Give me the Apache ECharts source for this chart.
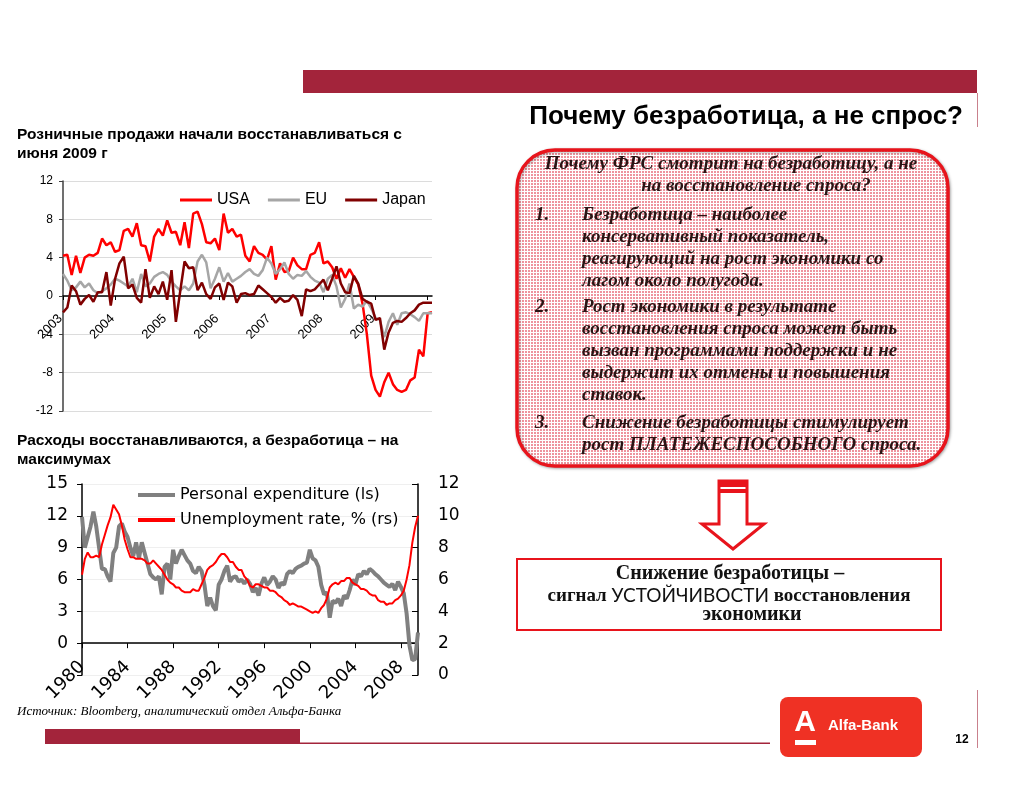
<!DOCTYPE html>
<html><head><meta charset="utf-8">
<script src="https://cdn.jsdelivr.net/npm/echarts@6/dist/echarts.min.js"></script>
<style>html,body{margin:0;padding:0;background:#fff}#c{width:1024px;height:791px}</style>
</head><body><div id="c"></div>
<script>
// ---- Top chart: retail sales, % y/y (monthly, Jan 2003 - Feb 2010)
const retailMonths = (function(){const a=[];for(let y=2003;y<=2010;y++){for(let m=1;m<=12;m++){if(y===2010&&m>2)break;a.push(y+'-'+(m<10?'0'+m:m));}}return a;})();
const usaSales = [4.2,4.3,2.2,4.2,2.4,4.0,4.3,4.2,4.5,6.0,
5.3,5.6,4.6,4.8,6.8,7.0,6.2,7.6,5.3,5.2,
3.6,6.2,7.0,6.3,7.9,6.6,6.7,5.3,7.7,5.0,
8.6,8.8,7.5,5.6,5.5,6.0,4.8,8.6,6.6,7.0,
6.2,6.4,4.2,3.6,5.2,4.5,4.3,3.8,5.2,1.7,
3.4,2.5,2.6,4.0,3.2,2.8,2.8,4.3,4.5,5.6,
3.4,3.6,3.0,1.8,2.9,1.9,2.8,2.0,1.2,-0.8,
-4.0,-8.3,-9.8,-10.5,-9.0,-8.0,-9.2,-9.8,-10.0,-9.8,
-8.8,-8.5,-5.6,-6.3,-1.8,-1.7];
const euSales = [2.3,1.6,0.6,0.9,1.5,0.9,1.3,0.6,0.3,0.5,
0.8,1.2,1.8,1.6,1.3,1.0,1.8,0.4,2.3,1.0,
1.3,2.0,2.3,2.5,2.2,1.5,1.0,0.6,1.0,0.6,
1.3,3.6,4.3,3.5,0.8,1.8,3.0,1.5,2.4,1.5,
1.8,2.1,2.5,2.8,2.3,2.1,2.7,4.0,3.4,2.3,
2.8,3.5,2.3,1.8,2.2,2.1,2.6,2.0,1.6,1.4,
0.4,1.8,2.2,1.0,-1.2,-0.3,1.3,-1.3,-0.9,-1.1,
-0.5,-1.3,-2.3,-2.5,-4.3,-2.7,-1.8,-3.0,-1.8,-1.7,
-1.9,-2.2,-2.6,-1.8,-1.8,-1.8];
const japanSales = [-1.7,-1.2,1.1,0.5,-0.9,-0.3,0.1,-0.6,0.4,0.4,
2.5,-1.0,1.8,3.4,4.1,0.8,1.2,-0.2,-0.7,2.8,
-0.2,1.0,0.2,1.5,-0.4,2.7,-2.7,0.5,3.6,2.9,
3.0,0.6,1.4,0.2,-0.3,0.9,1.3,-0.4,1.4,1.0,
-0.7,0.2,0.3,0.1,0.2,1.1,0.7,0.3,-0.1,-0.7,
-0.2,-0.6,-0.5,0.1,-0.4,-2.1,0.7,0.5,0.7,1.2,
1.7,0.6,1.8,3.1,1.3,0.4,0.3,2.1,1.3,-0.3,
-0.6,-0.8,-2.5,-2.3,-5.6,-3.8,-2.8,-2.6,-2.7,-2.3,
-1.8,-1.5,-0.9,-0.7,-0.7,-0.7];
const retailNames = ['USA','EU','Japan'];
const retailYearLabels = ['2003','2004','2005','2006','2007','2008','2009'];

// ---- Bottom chart: personal expenditure (ls) & unemployment (rs), quarterly 1980Q1 - 2009Q3
const quarters = (function(){const a=[];for(let y=1980;y<=2009;y++){for(let q=1;q<=4;q++){if(y===2009&&q>3)break;a.push(y+'Q'+q);}}return a;})();
const personalExp = [11.9,9.0,10.0,11.0, 12.4,11.0,9.0,7.0, 7.0,6.3,5.8,8.5, 9.0,11.0,11.3,10.5,
10.0,9.0,8.2,9.5, 8.0,9.5,8.5,7.5, 6.5,6.2,6.0,6.3, 4.6,7.2,7.5,6.0,
8.8,7.5,8.2,8.8, 8.3,7.8,7.5,6.8, 6.6,7.2,6.8,5.5, 3.5,4.3,3.5,3.1,
5.5,6.0,6.8,7.3, 5.8,6.2,6.3,5.8, 6.0,5.6,6.0,5.6, 4.8,5.2,4.5,5.6,
6.2,5.5,5.8,6.3, 6.0,5.2,5.7,5.5, 6.5,6.8,6.6,7.0, 7.2,7.3,7.5,7.6,
8.8,8.0,7.8,7.2, 5.5,4.6,4.8,2.4, 4.0,3.8,4.2,3.5, 4.5,4.2,5.0,6.0,
5.5,6.5,6.3,6.8, 6.5,7.0,6.8,6.5, 6.3,6.0,5.7,5.5, 5.3,5.6,5.0,5.8,
5.3,4.7,2.8,-0.2, -1.6,-1.5,1.0];
const unemployment = [6.3,7.3,7.7,7.4, 7.4,7.5,7.4,8.2, 8.8,9.4,9.9,10.7, 10.4,10.1,9.4,8.5,
7.9,7.4,7.4,7.3, 7.3,7.3,7.2,7.0, 7.0,7.2,7.0,6.8, 6.6,6.3,6.0,5.8,
5.7,5.5,5.5,5.3, 5.2,5.2,5.2,5.4, 5.3,5.3,5.7,6.1, 6.6,6.8,6.9,7.1,
7.4,7.6,7.6,7.4, 7.1,7.1,6.8,6.6, 6.6,6.2,6.0,5.6, 5.5,5.7,5.7,5.6,
5.5,5.5,5.3,5.3, 5.2,5.0,4.9,4.7, 4.6,4.4,4.5,4.4, 4.3,4.3,4.2,4.1,
4.0,3.9,4.0,3.9, 4.2,4.4,4.8,5.5, 5.7,5.8,5.7,5.9, 5.9,6.1,6.1,5.8,
5.7,5.6,5.4,5.4, 5.3,5.1,5.0,5.0, 4.7,4.6,4.6,4.4, 4.5,4.5,4.7,4.8,
5.0,5.3,6.0,6.9, 8.3,9.3,10.0];
const bottomNames = ['Personal expenditure (ls)','Unemployment rate, % (rs)'];

// ---- Slide texts
const slideTitle = 'Почему безработица, а не спрос?';
const chart1Title = ['Розничные продажи начали восстанавливаться с','июня 2009 г'];
const chart2Title = ['Расходы восстанавливаются, а безработица – на','максимумах'];
const sourceText = 'Источник: Bloomberg, аналитический отдел Альфа-Банка';
const boxTitle = ['Почему ФРС смотрит на безработицу, а не','на восстановление спроса?'];
const boxItems = [
  ['1.', ['Безработица – наиболее','консервативный показатель,','реагирующий на рост экономики со','лагом около полугода.']],
  ['2.', ['Рост экономики в результате','восстановления спроса может быть','вызван программами поддержки и не','выдержит их отмены и повышения','ставок.']],
  ['3.', ['Снижение безработицы стимулирует','рост ПЛАТЕЖЕСПОСОБНОГО спроса.']]
];
const conclusion = ['Снижение безработицы –','сигнал ','УСТОЙЧИВОСТИ',' восстановления','экономики'];

const SANS = '"Liberation Sans", Arial, sans-serif';
const WIDE = '"DejaVu Sans", Verdana, sans-serif';
const SERIF = '"Liberation Serif", "Times New Roman", serif';
const CRIMSON = '#a3243b';
const RED = '#e8141c';

// pattern for the rounded box (red dots on a light grid)
const pc = document.createElement('canvas'); pc.width = 3; pc.height = 3;
const pctx = pc.getContext('2d');
pctx.fillStyle = '#ffffff'; pctx.fillRect(0,0,3,3);
pctx.fillStyle = '#ee949e'; pctx.fillRect(0,0,2,2);

function T(x, y, text, font, align, fill, extra) {
  return Object.assign({type:'text', x:x, y:y, z:100, style:{text:text, font:font, align:align||'left', textAlign:align||'left', verticalAlign:'middle', textVerticalAlign:'middle', fill:fill||'#000'}}, extra||{});
}

const graphics = [];
graphics.push({type:'rect', shape:{x:303,y:70,width:674,height:23}, style:{fill:CRIMSON}});
graphics.push({type:'line', shape:{x1:977.5,y1:93,x2:977.5,y2:127}, style:{stroke:'#c9808c', lineWidth:1}});
graphics.push(T(963, 117, slideTitle, 'bold 26px ' + SANS, 'right'));
graphics.push(T(17, 135, chart1Title[0], 'bold 15.5px ' + SANS));
graphics.push(T(17, 154, chart1Title[1], 'bold 15.5px ' + SANS));
graphics.push(T(17, 441, chart2Title[0], 'bold 15.5px ' + SANS));
graphics.push(T(17, 460, chart2Title[1], 'bold 15.5px ' + SANS));
graphics.push(T(17, 712, sourceText, 'italic 13px ' + SERIF));
graphics.push({type:'rect', shape:{x:45,y:729,width:255,height:15}, style:{fill:CRIMSON}});
graphics.push({type:'rect', shape:{x:300,y:742.5,width:470,height:1.5}, style:{fill:CRIMSON}});
graphics.push({type:'line', shape:{x1:977.5,y1:690,x2:977.5,y2:748}, style:{stroke:'#c9808c', lineWidth:1}});
// logo
graphics.push({type:'rect', shape:{x:780,y:697,width:142,height:60,r:8}, style:{fill:'#ef3124'}});
graphics.push(T(805, 723, 'A', 'bold 30px ' + SANS, 'center', '#fff'));
graphics.push({type:'rect', shape:{x:795,y:740,width:21,height:5}, style:{fill:'#fff'}});
graphics.push(T(828, 726, 'Alfa-Bank', 'bold 15px ' + SANS, 'left', '#fff'));
graphics.push(T(962, 740, '12', 'bold 12px ' + SANS, 'center'));
// rounded box
graphics.push({type:'rect', shape:{x:517,y:150,width:431,height:316,r:38}, style:{fill:{image:pc, repeat:'repeat'}, stroke:RED, lineWidth:3.5, shadowBlur:3, shadowColor:'rgba(0,0,0,0.3)', shadowOffsetX:1, shadowOffsetY:1}});
const BOXFONT = 'italic bold 19px ' + SERIF;
const BOXCOL = '#2a1414';
graphics.push(T(731, 164, boxTitle[0], BOXFONT, 'center', BOXCOL));
graphics.push(T(756, 186, boxTitle[1], BOXFONT, 'center', BOXCOL));
const itemStarts = [215, 307, 423];
boxItems.forEach(function(it, i){
  graphics.push(T(535, itemStarts[i], it[0], BOXFONT, 'left', BOXCOL));
  it[1].forEach(function(line, j){
    graphics.push(T(582, itemStarts[i] + j*22, line, BOXFONT, 'left', BOXCOL));
  });
});
// arrow
graphics.push({type:'polygon', shape:{points:[[719,481],[747,481],[747,524],[764,524],[733,549],[702,524],[719,524]]}, style:{fill:'#fff', stroke:RED, lineWidth:3, lineJoin:'miter'}});
graphics.push({type:'rect', shape:{x:719,y:480,width:28,height:7}, style:{fill:RED}});
graphics.push({type:'rect', shape:{x:719,y:489,width:28,height:4}, style:{fill:RED}});
// conclusion box
graphics.push({type:'rect', shape:{x:517,y:559,width:424,height:71}, style:{fill:'#fff', stroke:RED, lineWidth:2}});
graphics.push(T(730, 574, conclusion[0], 'bold 20px ' + SERIF, 'center', '#111'));
graphics.push({type:'text', x:729, y:596, z:100, style:{text:'{a|'+conclusion[1]+'}{b|'+conclusion[2]+'}{a|'+conclusion[3]+'}', align:'center', textAlign:'center', verticalAlign:'middle', textVerticalAlign:'middle',
  rich:{a:{font:'bold 19px ' + SERIF, fill:'#111'}, b:{font:'19px Lato, "Open Sans", sans-serif', fill:'#111'}}}});
graphics.push(T(752, 615, conclusion[4], 'bold 20px ' + SERIF, 'center', '#111'));

const chart = echarts.init(document.getElementById('c'), null, {renderer:'canvas'});
chart.setOption({
  animation:false,
  backgroundColor:'#fff',
  textStyle:{fontFamily:SANS},
  graphic:{elements:graphics},
  legend:[
    {data:retailNames, left:180, top:192, padding:0, icon:'rect', itemWidth:32, itemHeight:3, itemGap:18, textStyle:{fontSize:16, color:'#000', fontFamily:SANS}},
    {data:bottomNames, orient:'vertical', left:138, top:487, padding:0, icon:'rect', itemWidth:37, itemHeight:4, itemGap:9, textStyle:{fontSize:16, color:'#000', fontFamily:WIDE}}
  ],
  grid:[
    {left:63, top:181, width:369, height:230},
    {left:82, top:484, width:336, height:191}
  ],
  xAxis:[
    {type:'category', gridIndex:0, data:retailMonths, boundaryGap:false,
     axisLine:{onZero:true, lineStyle:{color:'#000', width:1.5}},
     axisTick:{show:true, interval:11, length:4, lineStyle:{color:'#000'}},
     axisLabel:{interval:11, rotate:45, fontSize:13, color:'#000', margin:-97, formatter:function(v){const y=v.slice(0,4);return retailYearLabels.indexOf(y)>=0?y+' ':'';}},
     splitLine:{show:false}},
    {type:'category', gridIndex:1, data:quarters, boundaryGap:false,
     axisLine:{onZero:true, onZeroAxisIndex:1, lineStyle:{color:'#000', width:1.5}},
     axisTick:{show:true, interval:15, length:5, lineStyle:{color:'#000'}},
     axisLabel:{interval:15, rotate:45, fontSize:18, fontFamily:WIDE, color:'#000', margin:-11, formatter:function(v){return v.slice(0,4);}},
     splitLine:{show:false}}
  ],
  yAxis:[
    {type:'value', gridIndex:0, min:-12, max:12, interval:4,
     axisLine:{show:true, lineStyle:{color:'#404040', width:1.5}},
     axisTick:{show:true, length:4, lineStyle:{color:'#404040'}},
     axisLabel:{fontSize:12, color:'#000', margin:10},
     splitLine:{lineStyle:{color:'#dcdcdc'}}},
    {type:'value', gridIndex:1, min:-3, max:15, interval:3, position:'left',
     axisLine:{show:true, lineStyle:{color:'#000', width:1.5}},
     axisTick:{show:true, length:5, lineStyle:{color:'#000'}},
     axisLabel:{fontSize:17, fontFamily:WIDE, color:'#000', margin:14, formatter:function(v){return v < 0 ? '' : String(v);}},
     splitLine:{lineStyle:{color:'#efefef'}}},
    {type:'value', gridIndex:1, min:0, max:12, interval:2, position:'right',
     axisLine:{show:true, lineStyle:{color:'#000', width:1.5}},
     axisTick:{show:true, inside:true, length:6, lineStyle:{color:'#000'}},
     axisLabel:{fontSize:17, fontFamily:WIDE, color:'#000', margin:20},
     splitLine:{show:false}}
  ],
  series:[
    {name:'USA', type:'line', xAxisIndex:0, yAxisIndex:0, data:usaSales, showSymbol:false, lineStyle:{color:'#ff0000', width:2.5}, itemStyle:{color:'#ff0000'}},
    {name:'EU', type:'line', xAxisIndex:0, yAxisIndex:0, data:euSales, showSymbol:false, lineStyle:{color:'#a6a6a6', width:2.5}, itemStyle:{color:'#a6a6a6'}},
    {name:'Japan', type:'line', xAxisIndex:0, yAxisIndex:0, data:japanSales, showSymbol:false, lineStyle:{color:'#800000', width:2.5}, itemStyle:{color:'#800000'}},
    {name:bottomNames[0], type:'line', xAxisIndex:1, yAxisIndex:1, data:personalExp, showSymbol:false, lineStyle:{color:'#808080', width:4}, itemStyle:{color:'#808080'}},
    {name:bottomNames[1], type:'line', xAxisIndex:1, yAxisIndex:2, data:unemployment, showSymbol:false, lineStyle:{color:'#ff0000', width:2}, itemStyle:{color:'#ff0000'}}
  ]
});
</script></body></html>
